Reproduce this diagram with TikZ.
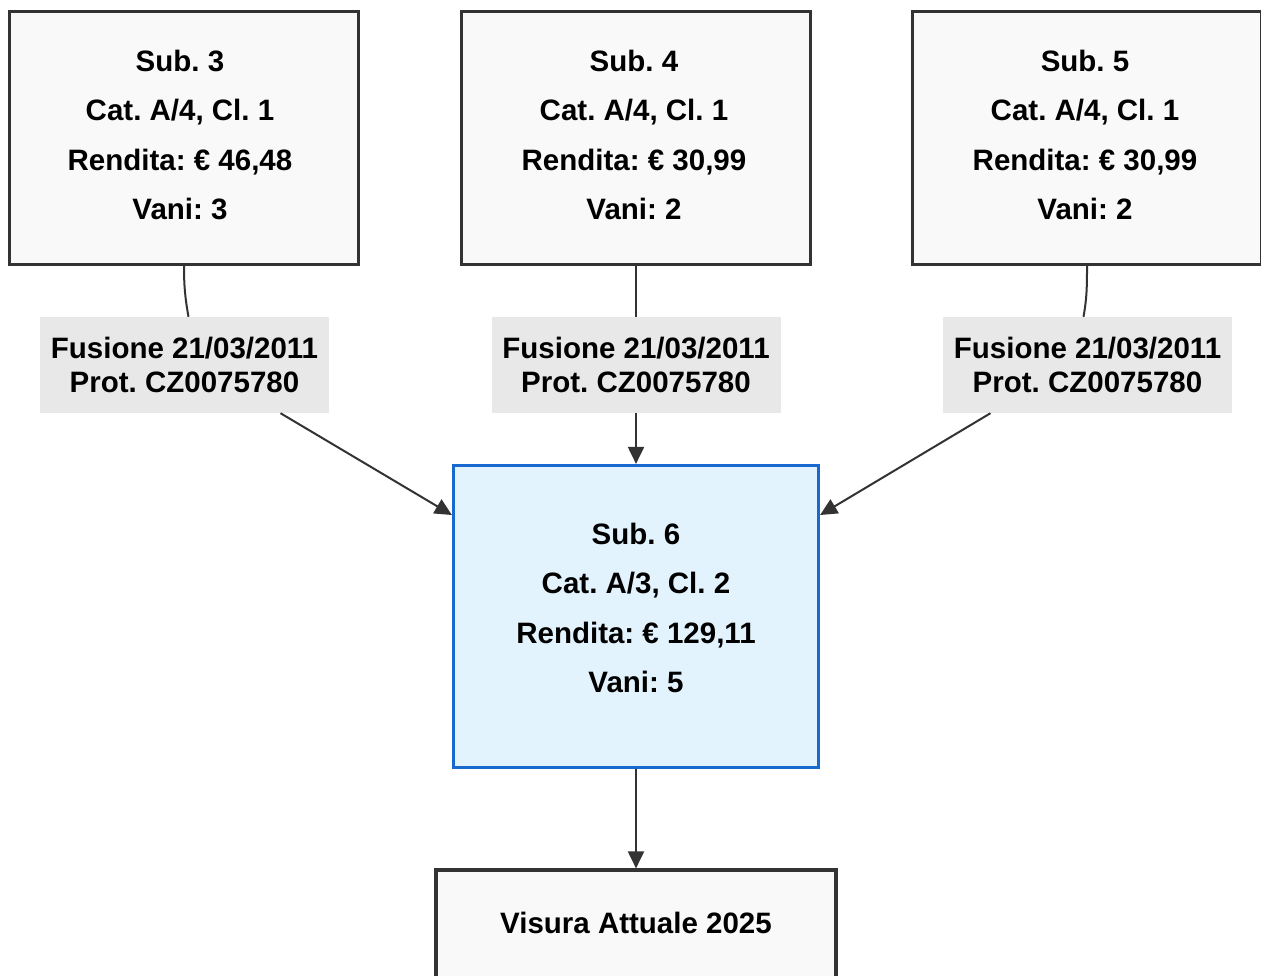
\documentclass[tikz,border=0pt]{standalone}
\usepackage{fontspec}
\setmainfont{Liberation Sans}
\usetikzlibrary{arrows.meta}
\frenchspacing
\definecolor{boxfill}{HTML}{F9F9F9}
\definecolor{boxline}{HTML}{333333}
\definecolor{lblfill}{HTML}{E8E8E8}
\definecolor{curfill}{HTML}{E3F3FD}
\definecolor{curline}{HTML}{1769CF}
\definecolor{edgecol}{HTML}{333333}
\tikzset{
  subbox/.style={draw=boxline, fill=boxfill, line width=3.2pt, minimum width=349pt, minimum height=253pt, inner sep=0pt},
  curbox/.style={draw=curline, fill=curfill, line width=3.2pt, minimum width=365pt, minimum height=302pt, inner sep=0pt},
  visbox/.style={draw=boxline, fill=boxfill, line width=3.2pt, minimum width=400pt, minimum height=150pt, inner sep=0pt},
  boxtext/.style={align=center, inner sep=0pt, font=\fontsize{29.5}{49.3}\selectfont\bfseries},
  lblbox/.style={fill=lblfill, minimum width=289pt, minimum height=96pt, inner sep=0pt, align=center, font=\fontsize{29.5}{34}\selectfont\bfseries},
  edge/.style={draw=edgecol, line width=2pt},
  arr/.style={edge, -{Triangle[length=17pt, width=16pt]}}
}
\begin{document}
\begin{tikzpicture}[x=1pt, y=-1pt]
\useasboundingbox (0,0) rectangle (1261,975);
\clip (0,0) rectangle (1261,975);
% source boxes
\node[subbox] (s3) at (184,138) {};
\node[subbox] (s4) at (636,138) {};
\node[subbox] (s5) at (1087,138) {};
\node[boxtext] (s3t) at (180,135) {Sub. 3\\Cat. A/4, Cl. 1\\Rendita: € 46,48\\Vani: 3};
\node[boxtext] (s4t) at (634,135) {Sub. 4\\Cat. A/4, Cl. 1\\Rendita: € 30,99\\Vani: 2};
\node[boxtext] (s5t) at (1085,135) {Sub. 5\\Cat. A/4, Cl. 1\\Rendita: € 30,99\\Vani: 2};
% labels
\node[lblbox] (l3) at (184.5,365) {Fusione 21/03/2011\\Prot. CZ0075780};
\node[lblbox] (l4) at (636,365) {Fusione 21/03/2011\\Prot. CZ0075780};
\node[lblbox] (l5) at (1087.5,365) {Fusione 21/03/2011\\Prot. CZ0075780};
% result
\node[curbox] (s6) at (636,616.5) {};
\node[boxtext] (s6t) at (636,608) {Sub. 6\\Cat. A/3, Cl. 2\\Rendita: € 129,11\\Vani: 5};
\node[visbox] (v) at (636,945) {};
\node[boxtext] (vt) at (636,923) {Visura Attuale 2025};
% connectors
\draw[edge] (s3.south) to[out=-90, in=100] ([xshift=4pt]l3.north);
\draw[edge] (s4.south) -- (l4.north);
\draw[edge] (s5.south) to[out=-90, in=80] ([xshift=-4pt]l5.north);
\draw[arr] ([xshift=96pt]l3.south) -- ([yshift=101.5pt]s6.west);
\draw[arr] (l4.south) -- (s6.north);
\draw[arr] ([xshift=-97pt]l5.south) -- ([yshift=101.5pt]s6.east);
\draw[arr] (s6.south) -- (v.north);
\end{tikzpicture}
\end{document}
